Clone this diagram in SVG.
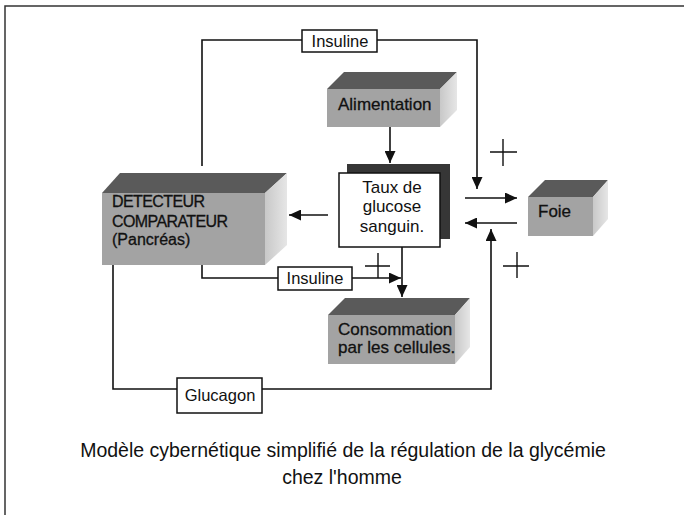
<svg xmlns="http://www.w3.org/2000/svg" width="684" height="515" viewBox="0 0 684 515">
  <style>
    .frame { fill: none; stroke: #333; stroke-width: 1.5; }
    .wire { fill: none; stroke: #111; stroke-width: 1.6; }
    .sign { fill: none; stroke: #111; stroke-width: 1.4; }
    .label-box { fill: #fff; stroke: #111; stroke-width: 1.5; }
    .front { fill: #a3a3a3; }
    .top { fill: #5a5a5a; }
    .side { fill: url(#sideShade); }
    .shadow { fill: #363636; }
    text { font-family: "Liberation Sans", Arial, sans-serif; fill: #111; }
    .lbl { font-size: 17px; }
    .ink { stroke: #111; stroke-width: 0.3; }
    .tag { font-size: 16.5px; text-anchor: middle; }
    .caps { font-size: 16px; letter-spacing: -0.6px; }
    .caption { font-size: 19.5px; text-anchor: middle; }
  </style>
  <defs>
    <marker id="head" markerUnits="userSpaceOnUse" markerWidth="12" markerHeight="11" refX="12" refY="5.5" orient="auto">
      <path d="M0,0 L12,5.5 L0,11 z" fill="#111"/>
    </marker>
    <linearGradient id="sideShade" x1="0" y1="0" x2="1" y2="0">
      <stop offset="0" stop-color="#c8c8c8"/>
      <stop offset="1" stop-color="#e6e6e6"/>
    </linearGradient>
  </defs>

  <!-- page frame (top and left edges) -->
  <path class="frame" d="M5,515 V6 H684"/>

  <!-- connectors -->
  <g id="connectors">
    <!-- food intake raises blood glucose -->
    <line class="wire" x1="390" y1="127" x2="390" y2="163" marker-end="url(#head)"/>
    <!-- blood glucose read by the pancreas -->
    <line class="wire" x1="328" y1="215" x2="289" y2="215" marker-end="url(#head)"/>
    <!-- insulin to the liver -->
    <path class="wire" d="M202,166 V40 H302"/>
    <path class="wire" d="M377,40 H477 V189" marker-end="url(#head)"/>
    <!-- insulin to the cells -->
    <path class="wire" d="M202,265 V278 H278"/>
    <path class="wire" d="M352,278 H401" marker-end="url(#head)"/>
    <!-- glucose taken up by the cells -->
    <line class="wire" x1="402" y1="247" x2="402" y2="297" marker-end="url(#head)"/>
    <!-- exchange with the liver -->
    <line class="wire" x1="465" y1="198" x2="517" y2="198" marker-end="url(#head)"/>
    <line class="wire" x1="517" y1="223" x2="465" y2="223" marker-end="url(#head)"/>
    <!-- glucagon to the liver -->
    <path class="wire" d="M113,265 V389 H177"/>
    <path class="wire" d="M262,389 H491 V229" marker-end="url(#head)"/>
    <!-- plus signs -->
    <path class="sign" d="M490,152 H517 M503,139 V166"/>
    <path class="sign" d="M503,266 H529 M517,252 V278"/>
    <path class="sign" d="M365,266 H390 M378,253 V278"/>
  </g>

  <!-- hormone tags -->
  <g id="tag-insuline-top">
    <rect class="label-box" x="302" y="30" width="75" height="22"/>
    <text class="tag" x="340" y="47">Insuline</text>
  </g>
  <g id="tag-insuline-low">
    <rect class="label-box" x="278" y="267" width="74" height="23"/>
    <text class="tag" x="315" y="284">Insuline</text>
  </g>
  <g id="tag-glucagon">
    <rect class="label-box" x="177" y="378" width="85" height="35"/>
    <text class="tag" x="220" y="401">Glucagon</text>
  </g>

  <!-- blocks -->
  <g id="alimentation">
    <polygon class="top" points="327,89 344,72 457,72 440,89"/>
    <polygon class="side" points="440,89 457,72 457,110 440,127"/>
    <rect class="front" x="327" y="89" width="113" height="38"/>
    <text class="lbl ink" x="338" y="110">Alimentation</text>
  </g>

  <g id="glycemie">
    <rect class="shadow" x="347" y="164" width="103" height="75"/>
    <rect class="label-box" x="339" y="173" width="101" height="74"/>
    <text class="lbl" text-anchor="middle" x="392" y="193">Taux de</text>
    <text class="lbl" text-anchor="middle" x="392" y="212">glucose</text>
    <text class="lbl" text-anchor="middle" x="392" y="232">sanguin.</text>
  </g>

  <g id="pancreas">
    <polygon class="top" points="102,193 120,173 287,173 265,193"/>
    <polygon class="side" points="265,193 287,173 287,245 265,265"/>
    <rect class="front" x="102" y="193" width="163" height="72"/>
    <text class="caps ink" x="112" y="207">DETECTEUR</text>
    <text class="caps ink" x="112" y="227">COMPARATEUR</text>
    <text class="lbl ink" x="112" y="245" style="font-size:16px">(Pancréas)</text>
  </g>

  <g id="foie">
    <polygon class="top" points="528,197 545,180 608,180 593,197"/>
    <polygon class="side" points="593,197 608,180 608,219 593,236"/>
    <rect class="front" x="528" y="197" width="65" height="39"/>
    <text class="lbl ink" x="538" y="217">Foie</text>
  </g>

  <g id="consommation">
    <polygon class="top" points="328,315 345,298 470,298 455,315"/>
    <polygon class="side" points="455,315 470,298 470,347 455,364"/>
    <rect class="front" x="328" y="315" width="127" height="49"/>
    <text class="lbl ink" x="338" y="335">Consommation</text>
    <text class="lbl ink" x="338" y="353">par les cellules.</text>
  </g>

  <!-- caption -->
  <g id="caption">
    <text class="caption" x="343" y="457">Modèle cybernétique simplifié de la régulation de la glycémie</text>
    <text class="caption" x="342" y="484">chez l'homme</text>
  </g>
</svg>
